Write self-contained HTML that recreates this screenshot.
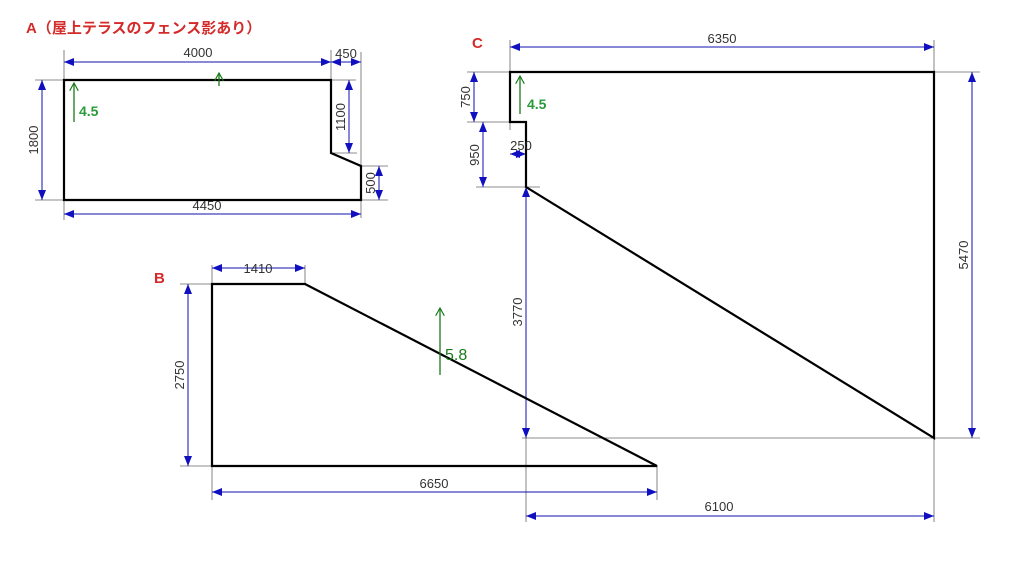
<!DOCTYPE html>
<html><head><meta charset="utf-8"><style>
body{margin:0;background:#fff;width:1024px;height:558px;overflow:hidden}
svg text{font-family:"Liberation Sans","Noto Sans CJK JP",sans-serif}
</style></head><body>
<svg width="1024" height="558" viewBox="0 0 1024 558" xmlns="http://www.w3.org/2000/svg">
<defs>
<marker id="a" viewBox="0 0 10 8" refX="10" refY="4" markerWidth="11" markerHeight="8" markerUnits="userSpaceOnUse" orient="auto-start-reverse"><path d="M0,0L10,4L0,8z" fill="#1010c0"/></marker>
<marker id="g" viewBox="0 0 10 10" refX="9" refY="5" markerWidth="9" markerHeight="9" markerUnits="userSpaceOnUse" orient="auto"><path d="M0,0L9,5L0,10" fill="none" stroke="#1a7a1a" stroke-width="1.3"/></marker>
</defs>
<g stroke="#666" stroke-width="0.8" fill="none">
<line x1="64" y1="50" x2="64" y2="220"/><line x1="331" y1="50" x2="331" y2="80"/><line x1="361" y1="52" x2="361" y2="218"/>
<line x1="35" y1="80" x2="356" y2="80"/><line x1="35" y1="200" x2="388" y2="200"/>
<line x1="331" y1="153" x2="357" y2="153"/><line x1="361" y1="166" x2="388" y2="166"/>
<line x1="510" y1="40" x2="510" y2="130"/><line x1="934" y1="40" x2="934" y2="72"/>
<line x1="467" y1="72" x2="510" y2="72"/><line x1="934" y1="72" x2="980" y2="72"/>
<line x1="467" y1="122" x2="526" y2="122"/><line x1="476" y1="187" x2="540" y2="187"/>
<line x1="522" y1="438" x2="980" y2="438"/>
<line x1="526" y1="438" x2="526" y2="522"/><line x1="934" y1="438" x2="934" y2="522"/>
<line x1="212" y1="265" x2="212" y2="500"/><line x1="305" y1="265" x2="305" y2="284"/><line x1="657" y1="466" x2="657" y2="500"/>
<line x1="180" y1="284" x2="212" y2="284"/><line x1="180" y1="466" x2="212" y2="466"/>
</g>
<g stroke="#1010b0" stroke-width="1" fill="none" marker-start="url(#a)" marker-end="url(#a)">
<line x1="64" y1="62" x2="331" y2="62"/><line x1="331" y1="62" x2="361" y2="62"/>
<line x1="42" y1="80" x2="42" y2="200"/><line x1="349" y1="80" x2="349" y2="153"/>
<line x1="379" y1="166" x2="379" y2="200"/><line x1="64" y1="214" x2="361" y2="214"/>
<line x1="510" y1="47" x2="934" y2="47"/><line x1="474" y1="72" x2="474" y2="122"/>
<line x1="483" y1="122" x2="483" y2="187"/><line x1="510" y1="154" x2="526" y2="154"/>
<line x1="972" y1="72" x2="972" y2="438"/><line x1="526" y1="187" x2="526" y2="438"/>
<line x1="526" y1="516" x2="934" y2="516"/>
<line x1="212" y1="268" x2="305" y2="268"/><line x1="188" y1="284" x2="188" y2="466"/>
<line x1="212" y1="492" x2="657" y2="492"/>
</g>
<g stroke="#000" stroke-width="2.2" fill="none">
<path d="M64,80H331V153L361,166V200H64Z"/>
<path d="M510,72H934V438L526,187V122H510Z"/>
<path d="M212,284H305L657,466H212Z"/>
</g>
<g stroke="#1a7a1a" stroke-width="1.3" marker-end="url(#g)">
<line x1="74" y1="122" x2="74" y2="83"/><line x1="219" y1="86" x2="219" y2="73"/>
<line x1="520" y1="114" x2="520" y2="76"/><line x1="440" y1="375" x2="440" y2="308"/>
</g>
<g font-size="13" fill="#333" text-anchor="middle">
<text x="198" y="57">4000</text><text x="346" y="58">450</text><text x="207" y="210">4450</text>
<text x="722" y="43">6350</text><text x="719" y="511">6100</text><text x="434" y="488">6650</text>
<text x="258" y="273">1410</text><text x="521" y="150">250</text>
<text transform="translate(38,140) rotate(-90)">1800</text>
<text transform="translate(345,117) rotate(-90)">1100</text>
<text transform="translate(375,183) rotate(-90)">500</text>
<text transform="translate(470,97) rotate(-90)">750</text>
<text transform="translate(479,155) rotate(-90)">950</text>
<text transform="translate(968,255) rotate(-90)">5470</text>
<text transform="translate(522,312) rotate(-90)">3770</text>
<text transform="translate(184,375) rotate(-90)">2750</text>
</g>
<g font-weight="bold" fill="#2a9a3a" font-size="14">
<text x="79" y="116">4.5</text><text x="527" y="109">4.5</text>
</g>
<text x="445" y="360" font-size="16" fill="#1a7a1a">5.8</text>
<g fill="#d42a2a" font-weight="bold">
<text x="26" y="33" font-size="15">A（屋上テラスのフェンス影あり）</text>
<text x="472" y="48" font-size="15">C</text>
<text x="154" y="283" font-size="15">B</text>
</g>
</svg>
</body></html>
